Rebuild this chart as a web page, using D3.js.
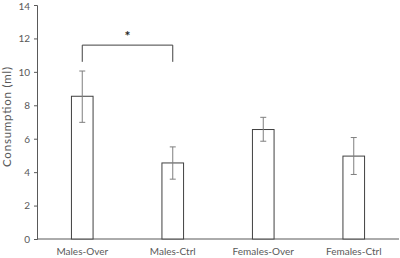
<!DOCTYPE html>
<html>
<head>
<meta charset="utf-8">
<script src="https://cdn.jsdelivr.net/npm/d3@7"></script>
<style>
  body { margin: 0; background: #fff; }
  text { font-family: Lato, "Open Sans", sans-serif; fill: #595959; }
</style>
</head>
<body>
<svg id="chart" width="400" height="258"></svg>
<script>
// Consumption by group, mean with error bars

let groups = ['Males-Over', 'Males-Ctrl', 'Females-Over', 'Females-Ctrl']
let means = [8.54, 4.55, 6.55, 4.96]
let errLow = [6.98, 3.58, 5.85, 3.86]
let errHigh = [10.05, 5.51, 7.28, 6.07]
let yTicks = [0, 2, 4, 6, 8, 10, 12, 14]

let svg = d3.select('#chart')

let x = d3.scaleBand()
  .domain(groups)
  .range([37, 399])
  .paddingInner(0.75)
  .paddingOuter(0.375)

let y = d3.scaleLinear()
  .domain([0, 14])
  .range([239, 5])

let bars = groups.map((g, i) => ({ g: g, v: means[i], lo: errLow[i], hi: errHigh[i] }))

// y axis
let yAxis = svg.append('g')
  .attr('transform', 'translate(37,0)')
  .call(d3.axisLeft(y).tickValues(yTicks).tickSize(3).tickPadding(4))
yAxis.select('.domain').attr('stroke', '#595959')
yAxis.selectAll('.tick line').attr('stroke', '#595959')
yAxis.selectAll('text')
  .style('font-size', '10px')
  .attr('fill', '#595959')
  .attr('dy', d => d === 14 ? '0.45em' : '0.34em')

// x axis baseline
svg.append('line')
  .attr('x1', 37)
  .attr('x2', 399)
  .attr('y1', y(0))
  .attr('y2', y(0))
  .style('stroke', '#595959')

// bars
svg.append('g')
  .attr('id', 'bars')
  .selectAll('rect')
  .data(bars)
  .join('rect')
  .attr('x', d => x(d.g) + 0.5)
  .attr('y', d => y(d.v))
  .attr('width', x.bandwidth() - 1)
  .attr('height', d => y(0) - y(d.v))
  .style('fill', '#fff')
  .style('stroke', '#404040')
  .style('stroke-width', 1)

// error bars
let err = svg.append('g').attr('id', 'errors')
let cx = d => x(d.g) + x.bandwidth() / 2
err.selectAll('line.stem')
  .data(bars)
  .join('line')
  .attr('class', 'stem')
  .attr('x1', cx)
  .attr('x2', cx)
  .attr('y1', d => y(d.lo))
  .attr('y2', d => y(d.hi))
  .style('stroke', '#7f7f7f')
err.selectAll('line.capHi')
  .data(bars)
  .join('line')
  .attr('class', 'capHi')
  .attr('x1', d => cx(d) - 3)
  .attr('x2', d => cx(d) + 3)
  .attr('y1', d => y(d.hi))
  .attr('y2', d => y(d.hi))
  .style('stroke', '#7f7f7f')
err.selectAll('line.capLo')
  .data(bars)
  .join('line')
  .attr('class', 'capLo')
  .attr('x1', d => cx(d) - 3)
  .attr('x2', d => cx(d) + 3)
  .attr('y1', d => y(d.lo))
  .attr('y2', d => y(d.lo))
  .style('stroke', '#7f7f7f')

// x labels
svg.append('g')
  .selectAll('text')
  .data(groups)
  .join('text')
  .attr('x', d => x(d) + x.bandwidth() / 2)
  .attr('y', 255)
  .attr('text-anchor', 'middle')
  .style('font-size', '10px')
  .text(d => d)

// significance bracket between first two groups
let sigY = y(11.6)
let sigBottom = y(10.6)
let bx1 = cx(bars[0])
let bx2 = cx(bars[1])
svg.append('path')
  .attr('d', d3.line()([[bx1, sigBottom], [bx1, sigY], [bx2, sigY], [bx2, sigBottom]]))
  .style('fill', 'none')
  .style('stroke', '#404040')
svg.append('text')
  .attr('x', (bx1 + bx2) / 2)
  .attr('y', sigY - 4)
  .attr('text-anchor', 'middle')
  .style('font-size', '14px')
  .style('font-weight', 'bold')
  .style('fill', '#262626')
  .text('*')

// y title
svg.append('text')
  .attr('transform', 'translate(11,117) rotate(-90)')
  .attr('text-anchor', 'middle')
  .attr('textLength', 100)
  .attr('lengthAdjust', 'spacing')
  .style('font-size', '11.5px')
  .text('Consumption (ml)')
</script>
</body>
</html>
